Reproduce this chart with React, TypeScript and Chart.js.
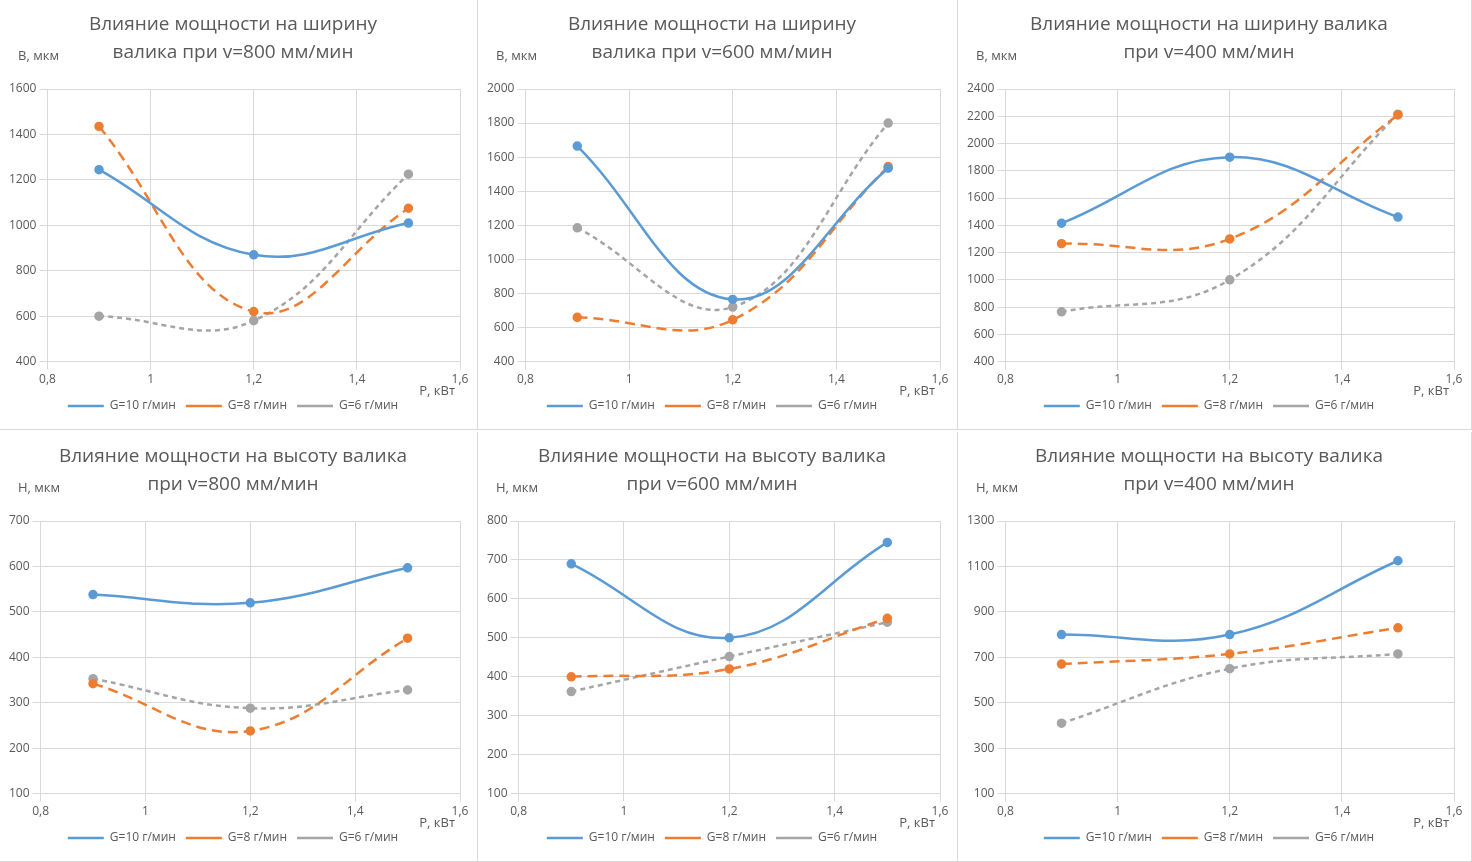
import React, { useEffect, useRef } from "react";
import { Chart, registerables } from "chart.js";
Chart.register(...registerables);

const xVals = [0.9, 1.2, 1.5];
const seriesNames = ["G=10 г/мин", "G=8 г/мин", "G=6 г/мин"];
const colors = ["#5b9bd5", "#ed7d31", "#a5a5a5"];
const dashes: number[][] = [[], [10, 6], [5, 4]];

const titles = [
  ["Влияние мощности на ширину", "валика при v=800 мм/мин"],
  ["Влияние мощности на ширину", "валика при v=600 мм/мин"],
  ["Влияние мощности на ширину валика", "при v=400 мм/мин"],
  ["Влияние мощности на высоту валика", "при v=800 мм/мин"],
  ["Влияние мощности на высоту валика", "при v=600 мм/мин"],
  ["Влияние мощности на высоту валика", "при v=400 мм/мин"],
];
const yLabels = ["В, мкм", "В, мкм", "В, мкм", "Н, мкм", "Н, мкм", "Н, мкм"];

const w800 = [[1245, 870, 1010], [1435, 620, 1075], [600, 580, 1225]];
const w600 = [[1665, 765, 1535], [660, 645, 1545], [1185, 720, 1800]];
const w400 = [[1415, 1900, 1460], [1265, 1300, 2210], [765, 1000, 2215]];
const h800 = [[538, 520, 597], [342, 238, 442], [353, 288, 328]];
const h600 = [[690, 500, 745], [400, 420, 550], [362, 452, 540]];
const h400 = [[800, 800, 1125], [670, 715, 830], [410, 650, 715]];
const panelData = [w800, w600, w400, h800, h600, h400];
const yRanges = [[400, 1600, 200], [400, 2000, 200], [400, 2400, 200], [100, 700, 100], [100, 800, 100], [100, 1300, 200]];
const widths = [478, 480, 514];

const fmt = (v: number) => String(Math.round(v * 10) / 10).replace(".", ",");

function Panel({ idx }: { idx: number }) {
  const ref = useRef<HTMLCanvasElement>(null);
  const w = widths[idx % 3];
  useEffect(() => {
    const [min, max, step] = yRanges[idx];
    const ch = new Chart(ref.current!, {
      type: "line",
      data: {
        datasets: panelData[idx].map((vals, i) => ({
          label: seriesNames[i],
          data: vals.map((y, j) => ({ x: xVals[j], y })),
          borderColor: colors[i],
          backgroundColor: colors[i],
          borderDash: dashes[i],
          borderWidth: 2.5,
          pointRadius: 3.5,
          tension: 0.4,
          fill: false,
        })),
      },
      options: {
        animation: false,
        responsive: false,
        layout: { padding: { left: 6, right: 16, top: 0, bottom: 6 } },
        plugins: {
          title: {
            display: true,
            text: titles[idx],
            color: "#595959",
            font: { family: "Open Sans", size: 19, weight: "normal", lineHeight: 1.5 },
            padding: { top: 10, bottom: 22 },
          },
          legend: {
            position: "bottom",
            labels: {
              color: "#595959",
              font: { family: "Open Sans", size: 12 },
              usePointStyle: true,
              pointStyle: "line",
              pointStyleWidth: 36,
              padding: 10,
            },
          },
        },
        scales: {
          x: {
            type: "linear",
            min: 0.8,
            max: 1.6,
            ticks: { stepSize: 0.2, callback: (v: any) => fmt(v), color: "#595959", font: { family: "Open Sans", size: 12 } },
            grid: { color: "#d9d9d9" },
            border: { color: "#d9d9d9" },
          },
          y: {
            min, max,
            ticks: { stepSize: step, callback: (v: any) => String(v), color: "#595959", font: { family: "Open Sans", size: 12 } },
            grid: { color: "#d9d9d9" },
            border: { color: "#d9d9d9" },
          },
        },
      },
    });
    return () => ch.destroy();
  }, [idx]);
  return (
    <div style={{ position: "relative", width: w, height: 430, borderRight: "1px solid #d9d9d9", borderBottom: "1px solid #d9d9d9", boxSizing: "border-box" }}>
      <canvas ref={ref} width={w - 2} height={428} style={{ width: w - 2, height: 428 }} />
      <div style={{ position: "absolute", left: 18, top: 46, fontFamily: "Open Sans", fontSize: 13, color: "#595959" }}>{yLabels[idx]}</div>
      <div style={{ position: "absolute", right: 22, top: 381, fontFamily: "Open Sans", fontSize: 13, color: "#595959" }}>P, кВт</div>
    </div>
  );
}

export default function App() {
  return (
    <div style={{ position: "absolute", left: 0, top: 0, width: 1472, height: 862, background: "#fff", display: "grid", gridTemplateColumns: "478px 480px 514px", gridTemplateRows: "432px 430px" }}>
      {[0, 1, 2, 3, 4, 5].map((i) => <Panel key={i} idx={i} />)}
    </div>
  );
}
